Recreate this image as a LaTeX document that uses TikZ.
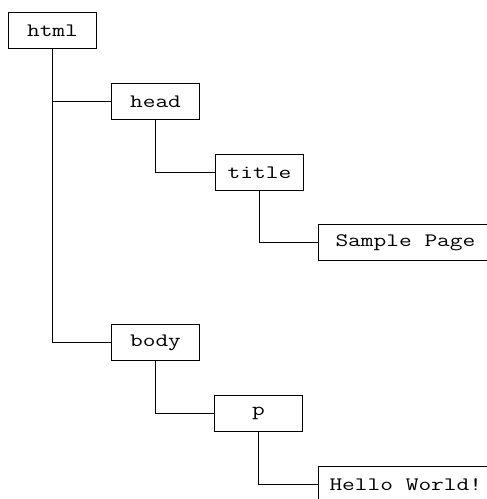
\documentclass[tikz,border=0pt]{standalone}
\usepackage{fontspec}
\setmonofont{Latin Modern Mono}[FakeStretch=1.3]
\usepackage{tikz}
\usetikzlibrary{calc,positioning}

\tikzset{
  tag/.style={draw, rectangle, line width=1pt, minimum width=88pt, minimum height=36pt,
    inner xsep=6pt, font=\ttfamily\fontsize{19pt}{21pt}\selectfont},
  wide/.style={inner xsep=#1},
  branch/.style={line width=1pt}
}

\begin{document}
\begin{tikzpicture}
  \useasboundingbox (0,0) rectangle (487pt,-499pt);
  % Nodes
  \node[tag, anchor=north west] (html) at (8pt,-12pt) {html};
  \node[tag, below right=34pt and 14pt of html] (head) {head};
  \node[tag, below right=34pt and 15pt of head] (title) {title};
  \node[tag, wide=17pt, below right=33pt and 14pt of title] (sample) {Sample Page};
  \node[tag, below=204pt of head] (body) {body};
  \node[tag, below right=34pt and 14pt of body] (para) {p};
  \node[tag, wide=11pt, below right=34pt and 15pt of para] (hello) {Hello World!};

  % Connectors
  \draw[branch] (html.south) |- (head.west);
  \draw[branch] (html.south) |- (body.west);
  \draw[branch] (head.south) |- (title.west);
  \draw[branch] (title.south) |- (sample.west);
  \draw[branch] (body.south) |- (para.west);
  \draw[branch] (para.south) |- (hello.west);
\end{tikzpicture}
\end{document}
